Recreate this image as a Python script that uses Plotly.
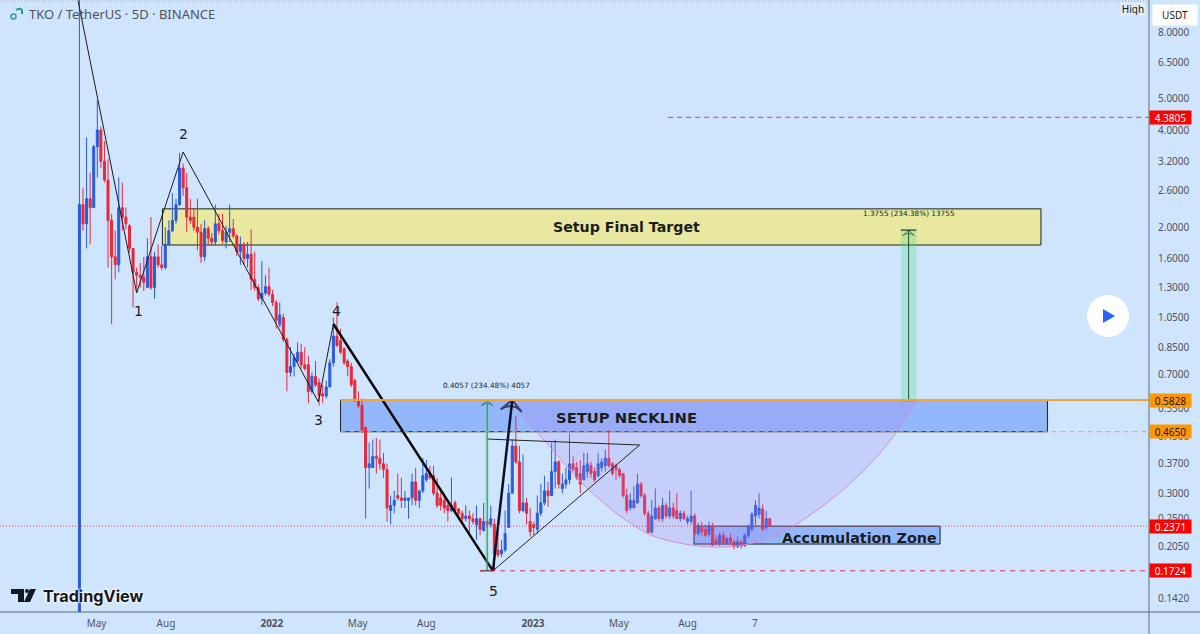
import math
import pandas as pd
import plotly.graph_objects as go

# 5D candles
opens = [0.12, 2.35, 2.05, 2.45, 2.3, 3.55, 4.0, 3.2, 2.8, 2.1,
         1.62, 1.53, 2.3, 2.15, 2.02, 1.72, 1.45, 1.42, 1.40, 1.3,
         1.62, 1.3, 1.62, 1.53, 1.5, 1.77, 1.95, 2.1, 2.35, 3.05,
         2.65, 2.15, 2.15, 2.0, 1.93, 1.62, 1.98, 1.85, 1.8, 2.05,
         1.95, 1.8, 1.93, 1.98, 1.88, 1.68, 1.77, 1.6, 1.65, 1.38,
         1.3, 1.2, 1.25, 1.31, 1.24, 1.17, 1.0, 1.05, 0.9, 0.71,
         0.74, 0.77, 0.82, 0.75, 0.75, 0.62, 0.69, 0.66, 0.61, 0.6,
         0.64, 0.76, 0.92, 0.89, 0.84, 0.77, 0.74, 0.67, 0.58, 0.56,
         0.48, 0.36, 0.36, 0.39, 0.385, 0.37, 0.355, 0.265, 0.275, 0.295,
         0.29, 0.285, 0.285, 0.29, 0.325, 0.285, 0.305, 0.33, 0.345, 0.34,
         0.3, 0.29, 0.285, 0.275, 0.265, 0.28, 0.268, 0.26, 0.25, 0.255,
         0.25, 0.24, 0.25, 0.23, 0.245, 0.24, 0.24, 0.2, 0.195, 0.2,
         0.235, 0.3, 0.42, 0.375, 0.265, 0.28, 0.245, 0.24, 0.232, 0.26,
         0.28, 0.305, 0.295, 0.35, 0.375, 0.31, 0.32, 0.33, 0.37, 0.36,
         0.345, 0.33, 0.35, 0.365, 0.35, 0.34, 0.36, 0.365, 0.385, 0.37,
         0.365, 0.355, 0.345, 0.295, 0.27, 0.27, 0.28, 0.32, 0.295, 0.26,
         0.227, 0.25, 0.27, 0.25, 0.275, 0.255, 0.27, 0.265, 0.25, 0.26,
         0.245, 0.245, 0.255, 0.225, 0.235, 0.232, 0.224, 0.238, 0.215, 0.21,
         0.222, 0.21, 0.218, 0.212, 0.205, 0.212, 0.206, 0.222, 0.232, 0.255,
         0.258, 0.268, 0.235, 0.25]
highs = [10.2, 2.65, 3.8, 2.95, 3.6, 4.95, 4.1, 3.7, 3.25, 2.2,
         1.95, 2.85, 2.75, 2.3, 2.05, 1.72, 1.5, 1.55, 1.62, 1.85,
         2.15, 1.68, 1.77, 1.75, 2.0, 2.1, 2.55, 2.45, 3.4, 3.15,
         2.95, 2.45, 2.3, 2.45, 2.05, 2.1, 2.02, 1.92, 2.35, 2.2,
         2.2, 2.02, 2.35, 2.12, 1.9, 1.87, 1.8, 1.8, 1.97, 1.68,
         1.33, 1.57, 1.42, 1.5, 1.28, 1.19, 1.17, 1.08, 0.91, 0.85,
         0.81, 0.88, 0.87, 0.85, 0.80, 0.71, 0.77, 0.68, 0.65, 0.67,
         0.78, 1.05, 1.17, 0.97, 0.85, 0.78, 0.76, 0.68, 0.62, 0.59,
         0.48, 0.43, 0.44, 0.445, 0.44, 0.40, 0.37, 0.295, 0.305, 0.345,
         0.335, 0.305, 0.29, 0.345, 0.36, 0.305, 0.385, 0.38, 0.365, 0.365,
         0.335, 0.31, 0.3, 0.28, 0.335, 0.285, 0.27, 0.265, 0.275, 0.265,
         0.26, 0.275, 0.252, 0.28, 0.245, 0.275, 0.25, 0.225, 0.215, 0.265,
         0.32, 0.44, 0.52, 0.42, 0.395, 0.29, 0.27, 0.245, 0.295, 0.32,
         0.34, 0.325, 0.43, 0.44, 0.38, 0.345, 0.36, 0.46, 0.39, 0.375,
         0.38, 0.40, 0.4, 0.375, 0.36, 0.4, 0.385, 0.41, 0.47, 0.375,
         0.37, 0.36, 0.345, 0.31, 0.30, 0.315, 0.345, 0.325, 0.30, 0.265,
         0.285, 0.31, 0.275, 0.29, 0.28, 0.305, 0.28, 0.3, 0.265, 0.265,
         0.255, 0.305, 0.26, 0.243, 0.245, 0.24, 0.245, 0.243, 0.222, 0.226,
         0.228, 0.22, 0.225, 0.215, 0.22, 0.215, 0.225, 0.24, 0.262, 0.285,
         0.3, 0.277, 0.265, 0.252]
lows = [0.12, 1.95, 1.72, 1.77, 2.3, 2.85, 3.05, 2.75, 1.5, 1.0,
        1.38, 1.45, 1.95, 1.97, 1.67, 1.13, 1.28, 1.3, 1.27, 1.3,
        1.28, 1.2, 1.5, 1.47, 1.48, 1.77, 1.93, 2.05, 2.33, 2.5,
        1.93, 2.05, 1.95, 1.7, 1.55, 1.57, 1.75, 1.75, 1.75, 1.9,
        1.78, 1.72, 1.8, 1.85, 1.63, 1.53, 1.53, 1.5, 1.28, 1.27,
        1.18, 1.15, 1.23, 1.22, 1.14, 0.97, 0.98, 0.88, 0.62, 0.69,
        0.69, 0.76, 0.73, 0.72, 0.57, 0.61, 0.64, 0.56, 0.57, 0.59,
        0.64, 0.74, 0.85, 0.81, 0.75, 0.69, 0.64, 0.575, 0.55, 0.46,
        0.25, 0.31, 0.36, 0.345, 0.355, 0.335, 0.245, 0.24, 0.26, 0.285,
        0.27, 0.27, 0.25, 0.275, 0.275, 0.27, 0.30, 0.325, 0.33, 0.295,
        0.27, 0.265, 0.26, 0.245, 0.262, 0.26, 0.25, 0.243, 0.245, 0.225,
        0.24, 0.215, 0.222, 0.228, 0.235, 0.235, 0.1724, 0.19, 0.19, 0.197,
        0.235, 0.3, 0.37, 0.26, 0.262, 0.24, 0.22, 0.222, 0.225, 0.255,
        0.275, 0.272, 0.295, 0.31, 0.31, 0.3, 0.31, 0.32, 0.35, 0.33,
        0.30, 0.33, 0.335, 0.335, 0.325, 0.335, 0.35, 0.35, 0.36, 0.34,
        0.33, 0.335, 0.29, 0.26, 0.265, 0.27, 0.278, 0.29, 0.255, 0.225,
        0.225, 0.248, 0.245, 0.245, 0.25, 0.25, 0.25, 0.25, 0.245, 0.248,
        0.24, 0.24, 0.222, 0.222, 0.222, 0.22, 0.22, 0.206, 0.207, 0.205,
        0.208, 0.208, 0.208, 0.201, 0.203, 0.202, 0.205, 0.218, 0.228, 0.238,
        0.25, 0.228, 0.23, 0.236]
closes = [2.35, 2.05, 2.45, 2.3, 3.55, 4.0, 3.2, 2.8, 2.1, 1.62,
          1.53, 2.3, 2.15, 2.05, 1.72, 1.45, 1.42, 1.40, 1.35, 1.62,
          1.3, 1.62, 1.53, 1.5, 1.77, 1.95, 2.1, 2.35, 3.05, 2.65,
          2.15, 2.1, 2.0, 1.93, 1.62, 1.98, 1.85, 1.8, 2.05, 1.95,
          1.82, 1.93, 1.98, 1.88, 1.68, 1.77, 1.6, 1.65, 1.38, 1.3,
          1.2, 1.25, 1.31, 1.24, 1.17, 1.03, 1.07, 0.9, 0.71, 0.74,
          0.79, 0.82, 0.75, 0.73, 0.62, 0.69, 0.65, 0.6, 0.6, 0.64,
          0.76, 0.92, 0.86, 0.82, 0.76, 0.74, 0.65, 0.58, 0.56, 0.47,
          0.36, 0.37, 0.39, 0.385, 0.37, 0.355, 0.27, 0.275, 0.285, 0.29,
          0.285, 0.29, 0.29, 0.325, 0.285, 0.305, 0.34, 0.345, 0.335, 0.3,
          0.275, 0.275, 0.27, 0.265, 0.275, 0.265, 0.26, 0.25, 0.255, 0.25,
          0.245, 0.25, 0.232, 0.245, 0.24, 0.25, 0.195, 0.193, 0.2, 0.225,
          0.3, 0.42, 0.375, 0.265, 0.28, 0.26, 0.228, 0.235, 0.26, 0.28,
          0.305, 0.295, 0.35, 0.375, 0.32, 0.32, 0.33, 0.37, 0.355, 0.335,
          0.32, 0.365, 0.37, 0.345, 0.33, 0.37, 0.375, 0.385, 0.365, 0.345,
          0.355, 0.34, 0.295, 0.265, 0.285, 0.285, 0.32, 0.295, 0.26, 0.227,
          0.255, 0.27, 0.25, 0.275, 0.255, 0.27, 0.255, 0.25, 0.26, 0.25,
          0.25, 0.255, 0.225, 0.238, 0.228, 0.222, 0.238, 0.207, 0.21, 0.222,
          0.21, 0.217, 0.212, 0.205, 0.212, 0.206, 0.222, 0.237, 0.258, 0.275,
          0.27, 0.232, 0.25, 0.2371]
bar_dates = pd.date_range("2021-04-07", periods=len(closes), freq="5D")

# axis labels
date_ticks = ["2021-05-01", "2021-08-06", "2022-01-01", "2022-05-01", "2022-08-05",
              "2023-01-01", "2023-05-01", "2023-08-05", "2023-11-07"]
date_labels = ["May", "Aug", "<b>2022</b>", "May", "Aug", "<b>2023</b>", "May", "Aug", "7"]
price_ticks = [8.0, 6.5, 5.0, 4.0, 3.2, 2.6, 2.0, 1.6, 1.3, 1.05, 0.85, 0.7, 0.55, 0.45,
               0.37, 0.3, 0.25, 0.205, 0.142]

# drawings on the chart
wave_dates = ["2021-04-05", "2021-06-26", "2021-08-30", "2022-03-07", "2022-03-28"]
wave_prices = [10.1, 1.251, 3.42, 0.575, 1.003]
drop_dates = ["2022-03-28", "2022-11-06"]
drop_prices = [1.003, 0.1724]
bounce_dates = ["2022-11-06", "2022-12-03"]
bounce_prices = [0.1724, 0.5828]
tri_dates = ["2022-10-29", "2023-05-30", "2022-11-06"]
tri_prices = [0.4414, 0.423, 0.1724]
cup_dates = ["2022-12-03", "2022-12-09", "2023-01-20", "2023-03-25", "2023-06-09", "2023-07-25",
             "2023-09-10", "2023-10-21", "2023-12-02", "2024-01-09", "2024-03-20", "2024-05-15",
             "2024-06-20"]
cup_prices = [0.5828, 0.55, 0.429, 0.30, 0.2257, 0.2102,
              0.2043, 0.2072, 0.2194, 0.2442, 0.3225, 0.4384,
              0.5828]
wave_label_text = ["1", "2", "3", "4", "5"]
wave_label_dates = ["2021-06-28", "2021-08-31", "2022-03-07", "2022-04-02", "2022-11-07"]
wave_label_prices = [1.10, 3.89, 0.505, 1.10, 0.149]

X_START = "2020-12-17"
X_END = "2025-05-11"
BG = "#cfe5fd"
BLUE = "#2a5bdc"
RED = "#e8283c"
EDGE = "#16231f"


def px(x):
    return x / 1149


def py(y):
    return 1 - y / 612


fig = go.Figure()

fig.add_trace(go.Scatter(x=cup_dates, y=cup_prices, mode="lines", fill="toself",
                         fillcolor="rgba(170,130,235,0.22)", line=dict(color="#d98ad8", width=1, shape="spline")))
fig.add_trace(go.Candlestick(x=bar_dates, open=opens, high=highs, low=lows, close=closes,
                             increasing=dict(line=dict(color=BLUE, width=1), fillcolor=BLUE),
                             decreasing=dict(line=dict(color=RED, width=1), fillcolor=RED)))
fig.add_trace(go.Scatter(x=wave_dates, y=wave_prices, mode="lines", line=dict(color="#1a1a1a", width=1)))
fig.add_trace(go.Scatter(x=drop_dates, y=drop_prices, mode="lines", line=dict(color="#0a0a0a", width=2.5)))
fig.add_trace(go.Scatter(x=bounce_dates, y=bounce_prices, mode="lines+markers",
                         line=dict(color="#0a0f2a", width=2.5),
                         marker=dict(symbol="arrow-wide-open", size=[0, 15], angleref="previous", color="#0a0f2a",
                                     line=dict(color="#0a0f2a", width=2))))
fig.add_trace(go.Scatter(x=tri_dates, y=tri_prices, mode="lines", line=dict(color="#222", width=1)))
fig.add_trace(go.Scatter(x=["2022-10-29", "2022-10-29"], y=[0.1724, 0.5828], mode="lines+markers",
                         line=dict(color="#16603c", width=1),
                         marker=dict(symbol="arrow-wide-open", size=[0, 8], angleref="previous", color="#16603c",
                                     line=dict(color="#16603c", width=1))))
fig.add_trace(go.Scatter(x=["2024-06-09", "2024-06-09"], y=[0.5828, 1.96], mode="lines+markers",
                         line=dict(color="#111", width=1),
                         marker=dict(symbol="arrow-wide-open", size=[0, 8], angleref="previous", color="#111",
                                     line=dict(color="#111", width=1))))

# zones
zones = [("2021-08-01", "2024-12-11", 1.762, 2.28, "#e8e8a0"),
         ("2022-04-07", "2024-12-20", 0.465, 0.5828, "#93b7fb"),
         ("2023-08-14", "2024-07-23", 0.2087, 0.2371, "#93b7fb")]
for x0, x1, y0, y1, color in zones:
    fig.add_shape(type="rect", x0=x0, x1=x1, y0=y0, y1=y1, fillcolor=color, line=dict(color=EDGE, width=1), layer="below")

# measure bands
fig.add_shape(type="rect", x0="2022-10-26", x1="2022-10-31", y0=0.1724, y1=0.5828,
              fillcolor="rgba(90,220,140,0.35)", line_width=0)
fig.add_shape(type="rect", x0="2024-05-29", x1="2024-06-20", y0=0.5828, y1=1.96,
              fillcolor="rgba(90,220,140,0.3)", line_width=0)
fig.add_shape(type="line", x0="2024-05-29", x1="2024-06-20", y0=1.96, y1=1.96, line=dict(color="#111", width=1))
fig.add_shape(type="line", x0="2024-05-29", x1="2024-06-20", y0=0.5828, y1=0.5828, line=dict(color="#111", width=2))
fig.add_shape(type="line", x0="2022-10-19", x1="2022-11-06", y0=0.1724, y1=0.1724, line=dict(color="#222", width=1))

# price levels
levels = [(4.3805, "2023-07-09", "#e6395f", "5px,4px", 1),
          (0.5828, "2022-04-07", "#f2a33c", "solid", 2),
          (0.465, "2022-04-07", "#d9a860", "5px,4px", 1),
          (0.2371, X_START, "#d8456e", "1px,2px", 1),
          (0.1724, "2022-10-19", "#d8305a", "5px,5px", 1)]
for price, start, color, dash, width in levels:
    fig.add_shape(type="line", x0=start, x1=X_END, y0=price, y1=price, line=dict(color=color, width=width, dash=dash))

# frame
fig.add_shape(type="line", xref="paper", yref="paper", x0=1, x1=1, y0=py(634), y1=1, line=dict(color="#5b6b7a", width=1))
fig.add_shape(type="line", xref="paper", yref="paper", x0=0, x1=px(1200), y0=0, y1=0, line=dict(color="#5b6b7a", width=1))
fig.add_shape(type="line", xref="paper", yref="paper", x0=0, x1=1, y0=py(1), y1=py(1), line=dict(color="#9aa7b5", width=1, dash="1px,2px"))

# play button
fig.add_shape(type="circle", xref="paper", yref="paper", x0=px(1087), x1=px(1129), y0=py(337), y1=py(295),
              fillcolor="white", line_width=0)
fig.add_shape(type="path", xref="paper", yref="paper", fillcolor="#2962ff", line_width=0,
              path=f"M {px(1103)} {py(309)} L {px(1115)} {py(316)} L {px(1103)} {py(323)} Z")

# TradingView mark
fig.add_shape(type="path", xref="paper", yref="paper", fillcolor="#131722", line_width=0,
              path=f"M {px(11)} {py(589)} L {px(24)} {py(589)} L {px(24)} {py(602)} L {px(18)} {py(602)} L {px(18)} {py(594)} L {px(11)} {py(594)} Z")
fig.add_shape(type="circle", xref="paper", yref="paper", fillcolor="#131722", line_width=0,
              x0=px(25), x1=px(29), y0=py(593), y1=py(589))
fig.add_shape(type="path", xref="paper", yref="paper", fillcolor="#131722", line_width=0,
              path=f"M {px(30)} {py(589)} L {px(36)} {py(589)} L {px(30)} {py(602)} L {px(24)} {py(602)} Z")

# symbol icon
fig.add_shape(type="circle", xref="paper", yref="paper", line=dict(color="#3c9c8c", width=1.5),
              x0=px(11), x1=px(16), y0=py(19), y1=py(14))
fig.add_shape(type="path", xref="paper", yref="paper", line=dict(color="#1f9c8c", width=2),
              path=f"M {px(16)} {py(10)} Q {px(23)} {py(6)} {px(22)} {py(14)}")

note_font = dict(family="DejaVu Sans", color="#1c1c1c")
annotations = []
for t, d, p in zip(wave_label_text, wave_label_dates, wave_label_prices):
    annotations.append(dict(x=d, y=math.log10(p), text=t, showarrow=False, font=dict(size=14, **note_font)))
annotations.append(dict(x="2023-05-12", y=math.log10(2.0), text="<b>Setup Final Target</b>", showarrow=False, font=dict(size=14.2, **note_font)))
annotations.append(dict(x="2023-05-12", y=math.log10(0.513), text="<b>SETUP NECKLINE</b>", showarrow=False, font=dict(size=14.8, **note_font)))
annotations.append(dict(x="2024-04-01", y=math.log10(0.218), text="<b>Accumulation Zone</b>", showarrow=False, font=dict(size=14.3, **note_font)))
annotations.append(dict(x="2022-10-28", y=math.log10(0.649), text="0.4057 (234.48%) 4057", showarrow=False, font=dict(size=7.3, **note_font)))
annotations.append(dict(x="2024-06-09", y=math.log10(2.21), text="1.3755 (234.38%) 13755", showarrow=False, font=dict(size=7.3, **note_font)))

badges = [(4.3805, "#ff0000", "white"), (0.5828, "#ff9800", "#131722"), (0.465, "#ff9800", "#131722"),
          (0.2371, "#ff0000", "white"), (0.1724, "#ff0000", "white")]
for price, bg, fg in badges:
    annotations.append(dict(xref="paper", x=1, xanchor="left", y=math.log10(price), text=f"{price:.4f}", showarrow=False,
                            width=41, height=13, bgcolor=bg, borderpad=0, font=dict(family="Noto Sans", size=10, color=fg)))

annotations.append(dict(xref="paper", yref="paper", x=px(27), y=py(14), xanchor="left", yanchor="middle",
                        text="TKO / TetherUS · 5D · BINANCE", showarrow=False, font=dict(family="Noto Sans", size=13, color="#50535e")))
annotations.append(dict(xref="paper", yref="paper", x=px(1133), y=py(9), xanchor="center", yanchor="middle", text="High", showarrow=False,
                        width=24, height=12, bgcolor="#dfedfd", borderpad=0, font=dict(family="Noto Sans", size=10, color="#131722")))
annotations.append(dict(xref="paper", yref="paper", x=px(1175), y=py(15), xanchor="center", yanchor="middle", text="USDT", showarrow=False,
                        width=44, height=20, bgcolor="white", borderpad=0, font=dict(family="Noto Sans", size=10, color="#131722")))
annotations.append(dict(xref="paper", yref="paper", x=px(41), y=py(596), xanchor="left", yanchor="middle", text="<b>TradingView</b>", showarrow=False,
                        font=dict(family="Inter", size=16.2, color="#131722", shadow="0 0 3px white, 0 0 3px white, 0 0 2px white")))

fig.update_layout(
    width=1200, height=634, margin=dict(l=0, r=51, t=0, b=22),
    paper_bgcolor=BG, plot_bgcolor=BG, showlegend=False, annotations=annotations,
    boxgap=0.3, boxgroupgap=0.2,
    xaxis=dict(type="date", range=[X_START, X_END], tickvals=date_ticks, ticktext=date_labels, showgrid=False,
               zeroline=False, rangeslider=dict(visible=False), ticks="outside", ticklen=2, tickcolor=BG,
               tickfont=dict(family="Noto Sans", size=10, color="#50535e")),
    yaxis=dict(type="log", side="right", range=[-0.891, 1.005], tickvals=price_ticks,
               ticktext=[f"{v:.4f}" for v in price_ticks], showgrid=False, zeroline=False,
               ticks="outside", ticklen=6, tickcolor=BG, tickfont=dict(family="Noto Sans", size=10, color="#50535e")),
)

# browser default body margin would push the chart 8px off
fig.write_html("out.html", config=dict(displayModeBar=False), post_script="document.body.style.margin='0';")
